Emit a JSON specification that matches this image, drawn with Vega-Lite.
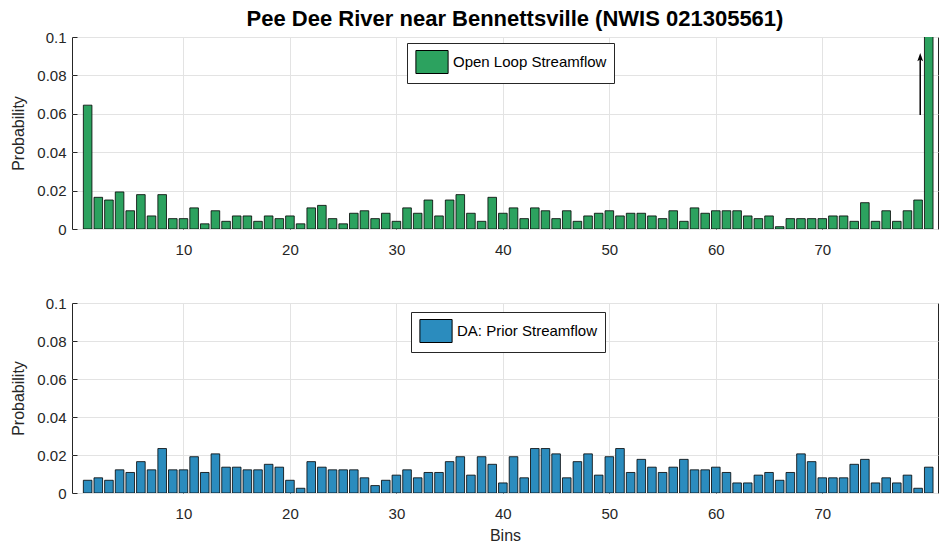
{
  "$schema": "https://vega.github.io/schema/vega-lite/v6.json",
  "autosize": {"type": "pad"},
  "padding": {"left": 10, "top": 7, "right": 0, "bottom": 0},
  "bounds": "flush",
  "spacing": 74,
  "background": "white",
  "config": {
    "font": "Liberation Sans",
    "view": {"stroke": "#262626", "strokeWidth": 1},
    "axis": {
      "domain": false,
      "ticks": true,
      "tickSize": -5,
      "tickColor": "#262626",
      "tickWidth": 1,
      "grid": true,
      "gridColor": "#e3e3e3",
      "gridWidth": 1,
      "labelColor": "#262626",
      "labelFont": "Liberation Sans",
      "labelFontSize": 15,
      "titleColor": "#262626",
      "titleFont": "Liberation Sans",
      "titleFontSize": 16,
      "titleFontWeight": "normal"
    },
    "axisX": {"labelPadding": 18},
    "axisY": {"labelPadding": 11},
    "legend": {
      "orient": "none",
      "title": null,
      "padding": 7,
      "strokeColor": "#262626",
      "fillColor": "white",
      "labelFont": "Liberation Sans",
      "labelFontSize": 15,
      "labelColor": "black",
      "symbolType": "M-1.4,-1H1.4V1H-1.4Z",
      "symbolSize": 529,
      "symbolOffset": 6,
      "symbolStrokeColor": "black",
      "symbolStrokeWidth": 1,
      "symbolOpacity": 1,
      "labelOffset": 9
    }
  },
  "resolve": {"scale": {"color": "independent"}, "legend": {"color": "independent"}},
  "datasets": {
    "open": [
      {"bin": 1, "p": 0.0645}, {"bin": 2, "p": 0.0165}, {"bin": 3, "p": 0.0151}, {"bin": 4, "p": 0.0193},
      {"bin": 5, "p": 0.0095}, {"bin": 6, "p": 0.0179}, {"bin": 7, "p": 0.0068}, {"bin": 8, "p": 0.0179},
      {"bin": 9, "p": 0.0054}, {"bin": 10, "p": 0.0054}, {"bin": 11, "p": 0.011}, {"bin": 12, "p": 0.0027},
      {"bin": 13, "p": 0.0095}, {"bin": 14, "p": 0.004}, {"bin": 15, "p": 0.0068}, {"bin": 16, "p": 0.0068},
      {"bin": 17, "p": 0.004}, {"bin": 18, "p": 0.0068}, {"bin": 19, "p": 0.0054}, {"bin": 20, "p": 0.0068},
      {"bin": 21, "p": 0.0027}, {"bin": 22, "p": 0.011}, {"bin": 23, "p": 0.0123}, {"bin": 24, "p": 0.0054},
      {"bin": 25, "p": 0.0027}, {"bin": 26, "p": 0.0082}, {"bin": 27, "p": 0.0095}, {"bin": 28, "p": 0.0054},
      {"bin": 29, "p": 0.0082}, {"bin": 30, "p": 0.004}, {"bin": 31, "p": 0.011}, {"bin": 32, "p": 0.0082},
      {"bin": 33, "p": 0.0151}, {"bin": 34, "p": 0.0068}, {"bin": 35, "p": 0.0151}, {"bin": 36, "p": 0.0179},
      {"bin": 37, "p": 0.0082}, {"bin": 38, "p": 0.004}, {"bin": 39, "p": 0.0165}, {"bin": 40, "p": 0.0082},
      {"bin": 41, "p": 0.011}, {"bin": 42, "p": 0.0054}, {"bin": 43, "p": 0.011}, {"bin": 44, "p": 0.0095},
      {"bin": 45, "p": 0.0054}, {"bin": 46, "p": 0.0095}, {"bin": 47, "p": 0.004}, {"bin": 48, "p": 0.0068},
      {"bin": 49, "p": 0.0082}, {"bin": 50, "p": 0.0095}, {"bin": 51, "p": 0.0068}, {"bin": 52, "p": 0.0082},
      {"bin": 53, "p": 0.0082}, {"bin": 54, "p": 0.0068}, {"bin": 55, "p": 0.0054}, {"bin": 56, "p": 0.0095},
      {"bin": 57, "p": 0.004}, {"bin": 58, "p": 0.011}, {"bin": 59, "p": 0.0082}, {"bin": 60, "p": 0.0095},
      {"bin": 61, "p": 0.0095}, {"bin": 62, "p": 0.0095}, {"bin": 63, "p": 0.0068}, {"bin": 64, "p": 0.0054},
      {"bin": 65, "p": 0.0068}, {"bin": 66, "p": 0.0012}, {"bin": 67, "p": 0.0054}, {"bin": 68, "p": 0.0054},
      {"bin": 69, "p": 0.0054}, {"bin": 70, "p": 0.0054}, {"bin": 71, "p": 0.0068}, {"bin": 72, "p": 0.0068},
      {"bin": 73, "p": 0.004}, {"bin": 74, "p": 0.0137}, {"bin": 75, "p": 0.004}, {"bin": 76, "p": 0.0095},
      {"bin": 77, "p": 0.004}, {"bin": 78, "p": 0.0095}, {"bin": 79, "p": 0.0151}, {"bin": 80, "p": 0.15}
    ],
    "da": [
      {"bin": 1, "p": 0.0067}, {"bin": 2, "p": 0.008}, {"bin": 3, "p": 0.0067}, {"bin": 4, "p": 0.0122},
      {"bin": 5, "p": 0.0108}, {"bin": 6, "p": 0.0165}, {"bin": 7, "p": 0.0122}, {"bin": 8, "p": 0.0234},
      {"bin": 9, "p": 0.0122}, {"bin": 10, "p": 0.0122}, {"bin": 11, "p": 0.0191}, {"bin": 12, "p": 0.0108},
      {"bin": 13, "p": 0.0206}, {"bin": 14, "p": 0.0136}, {"bin": 15, "p": 0.0136}, {"bin": 16, "p": 0.0122},
      {"bin": 17, "p": 0.0122}, {"bin": 18, "p": 0.0151}, {"bin": 19, "p": 0.0136}, {"bin": 20, "p": 0.0067},
      {"bin": 21, "p": 0.0025}, {"bin": 22, "p": 0.0165}, {"bin": 23, "p": 0.0136}, {"bin": 24, "p": 0.0122},
      {"bin": 25, "p": 0.0122}, {"bin": 26, "p": 0.0122}, {"bin": 27, "p": 0.008}, {"bin": 28, "p": 0.0039},
      {"bin": 29, "p": 0.0067}, {"bin": 30, "p": 0.0094}, {"bin": 31, "p": 0.0122}, {"bin": 32, "p": 0.008},
      {"bin": 33, "p": 0.0108}, {"bin": 34, "p": 0.0108}, {"bin": 35, "p": 0.0165}, {"bin": 36, "p": 0.0191},
      {"bin": 37, "p": 0.0094}, {"bin": 38, "p": 0.0191}, {"bin": 39, "p": 0.0151}, {"bin": 40, "p": 0.0053},
      {"bin": 41, "p": 0.0191}, {"bin": 42, "p": 0.008}, {"bin": 43, "p": 0.0234}, {"bin": 44, "p": 0.0234},
      {"bin": 45, "p": 0.0206}, {"bin": 46, "p": 0.008}, {"bin": 47, "p": 0.0165}, {"bin": 48, "p": 0.0206},
      {"bin": 49, "p": 0.0094}, {"bin": 50, "p": 0.0191}, {"bin": 51, "p": 0.0234}, {"bin": 52, "p": 0.0108},
      {"bin": 53, "p": 0.0177}, {"bin": 54, "p": 0.0136}, {"bin": 55, "p": 0.0108}, {"bin": 56, "p": 0.0136},
      {"bin": 57, "p": 0.0177}, {"bin": 58, "p": 0.0122}, {"bin": 59, "p": 0.0122}, {"bin": 60, "p": 0.0136},
      {"bin": 61, "p": 0.0108}, {"bin": 62, "p": 0.0053}, {"bin": 63, "p": 0.0053}, {"bin": 64, "p": 0.0094},
      {"bin": 65, "p": 0.0108}, {"bin": 66, "p": 0.0067}, {"bin": 67, "p": 0.0108}, {"bin": 68, "p": 0.0206},
      {"bin": 69, "p": 0.0165}, {"bin": 70, "p": 0.008}, {"bin": 71, "p": 0.008}, {"bin": 72, "p": 0.008},
      {"bin": 73, "p": 0.0151}, {"bin": 74, "p": 0.0177}, {"bin": 75, "p": 0.0053}, {"bin": 76, "p": 0.008},
      {"bin": 77, "p": 0.0053}, {"bin": 78, "p": 0.0094}, {"bin": 79, "p": 0.0025}, {"bin": 80, "p": 0.0136}
    ],
    "arrow": [{"x": 79.2, "y": 0.0594, "y2": 0.089}]
  },
  "vconcat": [
    {
      "width": 866,
      "height": 192,
      "title": {"text": "Pee Dee River near Bennettsville (NWIS 021305561)", "font": "Liberation Sans", "fontSize": 22, "fontWeight": "bold", "color": "black", "anchor": "middle", "offset": -1, "dx": 10},
      "layer": [
        {
          "data": {"name": "open"},
          "mark": {"type": "bar", "width": 8.6, "stroke": "black", "strokeWidth": 0.8, "clip": true},
          "encoding": {
            "x": {"field": "bin", "type": "quantitative", "scale": {"domain": [0, 80.4], "nice": false, "zero": false}, "axis": {"values": [10, 20, 30, 40, 50, 60, 70], "title": null, "format": "d"}},
            "y": {"field": "p", "type": "quantitative", "scale": {"domain": [0, 0.1], "nice": false}, "axis": {"values": [0, 0.02, 0.04, 0.06, 0.08, 0.1], "format": ".2~f", "title": "Probability", "titlePadding": 10}},
            "color": {"datum": "Open Loop Streamflow", "scale": {"range": ["#2ca25f"]}, "legend": {"legendX": 335, "legendY": 6}}
          }
        },
        {
          "data": {"name": "arrow"},
          "mark": {"type": "rule", "color": "black", "strokeWidth": 1.5},
          "encoding": {
            "x": {"field": "x", "type": "quantitative", "axis": {"values": [10, 20, 30, 40, 50, 60, 70], "title": null, "format": "d"}},
            "y": {"field": "y", "type": "quantitative", "axis": {"values": [0, 0.02, 0.04, 0.06, 0.08, 0.1], "format": ".2~f", "title": "Probability", "titlePadding": 10}},
            "y2": {"field": "y2"}
          }
        },
        {
          "data": {"name": "arrow"},
          "mark": {"type": "point", "shape": "M0,-1L-0.55,0.6L0,0.25L0.55,0.6Z", "filled": true, "color": "black", "opacity": 1, "size": 110},
          "encoding": {
            "x": {"field": "x", "type": "quantitative", "axis": {"values": [10, 20, 30, 40, 50, 60, 70], "title": null, "format": "d"}},
            "y": {"field": "y2", "type": "quantitative", "axis": {"values": [0, 0.02, 0.04, 0.06, 0.08, 0.1], "format": ".2~f", "title": "Probability", "titlePadding": 10}}
          }
        }
      ]
    },
    {
      "width": 866,
      "height": 190,
      "data": {"name": "da"},
      "mark": {"type": "bar", "width": 8.6, "stroke": "black", "strokeWidth": 0.8, "clip": true},
      "encoding": {
        "x": {"field": "bin", "type": "quantitative", "scale": {"domain": [0, 80.4], "nice": false, "zero": false}, "axis": {"values": [10, 20, 30, 40, 50, 60, 70], "title": "Bins", "format": "d", "titlePadding": 6}},
        "y": {"field": "p", "type": "quantitative", "scale": {"domain": [0, 0.1], "nice": false}, "axis": {"values": [0, 0.02, 0.04, 0.06, 0.08, 0.1], "format": ".2~f", "title": "Probability", "titlePadding": 10}},
        "color": {"datum": "DA: Prior Streamflow", "scale": {"range": ["#2b8cbe"]}, "legend": {"legendX": 339, "legendY": 9}}
      }
    }
  ]
}
